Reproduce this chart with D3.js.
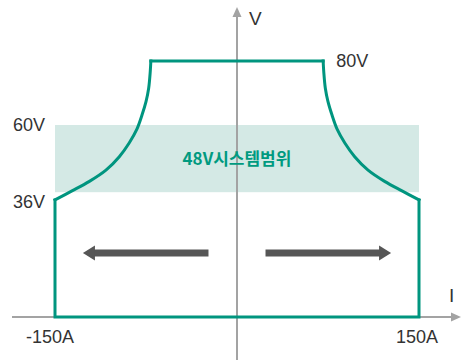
<!DOCTYPE html>
<html>
<meta charset="utf-8">
<style>
body { margin: 0; background: #fff; }
text { font-family: "Liberation Sans", Arial, sans-serif; fill: #333; }
</style>
<body>
<script src="https://d3js.org/d3.v7.min.js"></script>
<script>
// right half of the operating envelope (left half is mirrored)
var curveI = [150, 136, 122, 108, 97, 89, 82.5, 78.3, 75, 72.8, 71.5, 71];
var curveV = [36.6, 39.4, 42.3, 45.9, 50.1, 54.3, 58.7, 63.1, 67.3, 71.5, 76.7, 80];
var maxI = 150, maxV = 80;
// 48V system band
var bandV = [39, 60];
var bandLabel = "48V시스템범위";
// direction arrows (current from/to)
var arrowI = [[-23.5, -127], [23.5, 127]];
var arrowV = 20;
// tick labels
var vLabels = [{v: 80, t: "80V", side: "right"}, {v: 60, t: "60V", side: "left"}, {v: 36, t: "36V", side: "left"}];
var iLabels = [{i: -150, t: "-150A"}, {i: 150, t: "150A"}];

var width = 464, height = 360;
var green = "#00957f", axisCol = "#a3a3a3";

var x = d3.scaleLinear().domain([-150, 150]).range([55, 419]);
var y = d3.scaleLinear().domain([0, 80]).range([317, 61]);

var svg = d3.select("body").append("svg")
    .attr("width", width)
    .attr("height", height);

// band
svg.append("rect")
    .attr("x", x(-150))
    .attr("y", y(bandV[1]))
    .attr("width", x(150) - x(-150))
    .attr("height", y(bandV[0]) - y(bandV[1]))
    .style("fill", "#d4e9e5");

// axes
svg.append("line")
    .attr("x1", x(0)).attr("x2", x(0))
    .attr("y1", height).attr("y2", 14)
    .style("stroke", axisCol).style("stroke-width", 2);
svg.append("path")
    .attr("d", "M" + x(0) + ",7L" + (x(0) - 4.5) + ",17L" + (x(0) + 4.5) + ",17Z")
    .style("fill", axisCol);
svg.append("line")
    .attr("x1", 12).attr("x2", 453)
    .attr("y1", y(0)).attr("y2", y(0))
    .style("stroke", axisCol).style("stroke-width", 2);
svg.append("path")
    .attr("d", "M461," + y(0) + "L451," + (y(0) - 4.5) + "L451," + (y(0) + 4.5) + "Z")
    .style("fill", axisCol);

// envelope outline
var rightCurve = curveI.map(function(d, i) { return [d, curveV[i]]; });
var leftCurve = rightCurve.map(function(d) { return [-d[0], d[1]]; });

var lin = d3.line().x(function(d) { return x(d[0]); }).y(function(d) { return y(d[1]); });
var cur = d3.line().x(function(d) { return x(d[0]); }).y(function(d) { return y(d[1]); })
    .curve(d3.curveCatmullRom.alpha(0.5));

var outline = [
  lin([[-maxI, curveV[0]], [-maxI, 0], [maxI, 0], [maxI, curveV[0]]]),
  lin([[-curveI[curveI.length - 1], maxV], [curveI[curveI.length - 1], maxV]]),
  cur(leftCurve),
  cur(rightCurve)
];
svg.selectAll(".env")
    .data(outline)
  .enter().append("path")
    .attr("class", "env")
    .attr("d", function(d) { return d; })
    .style("fill", "none")
    .style("stroke", green)
    .style("stroke-width", 3)
    .style("stroke-linecap", "square")
    .style("stroke-linejoin", "miter");

// arrows
arrowI.forEach(function(a) {
  var dir = a[1] > a[0] ? 1 : -1;
  var tip = x(a[1]), base = tip - dir * 12, yy = y(arrowV);
  svg.append("line")
      .attr("x1", x(a[0])).attr("x2", base + dir * 1)
      .attr("y1", yy).attr("y2", yy)
      .style("stroke", "#565656").style("stroke-width", 7);
  svg.append("path")
      .attr("d", "M" + tip + "," + yy + "L" + base + "," + (yy - 7.5) + "L" + base + "," + (yy + 7.5) + "Z")
      .style("fill", "#565656");
});

// band label
svg.append("text")
    .attr("x", x(0))
    .attr("y", (y(bandV[0]) + y(bandV[1])) / 2)
    .attr("dy", "0.36em")
    .attr("text-anchor", "middle")
    .style("font-family", "'Noto Sans CJK KR', sans-serif")
    .style("font-weight", "bold")
    .style("font-size", "17px")
    .style("fill", "#009a80")
    .text(bandLabel);

// voltage labels
svg.selectAll(".vlab")
    .data(vLabels)
  .enter().append("text")
    .attr("class", "vlab")
    .attr("x", function(d) { return d.side == "right" ? x(71) + 13 : 45; })
    .attr("y", function(d) { return y(d.v); })
    .attr("dy", "0.36em")
    .attr("text-anchor", function(d) { return d.side == "right" ? "start" : "end"; })
    .style("font-size", "18px")
    .text(function(d) { return d.t; });

// current labels
svg.selectAll(".ilab")
    .data(iLabels)
  .enter().append("text")
    .attr("class", "ilab")
    .attr("x", function(d) { return x(d.i) + (d.i < 0 ? -5 : -2); })
    .attr("y", 343)
    .attr("text-anchor", "middle")
    .style("font-size", "18px")
    .text(function(d) { return d.t; });

// axis names
svg.append("text")
    .attr("x", 249).attr("y", 25)
    .style("font-size", "19px")
    .text("V");
svg.append("text")
    .attr("x", 449).attr("y", 302)
    .style("font-size", "19px")
    .text("I");
</script>
</body>
</html>
